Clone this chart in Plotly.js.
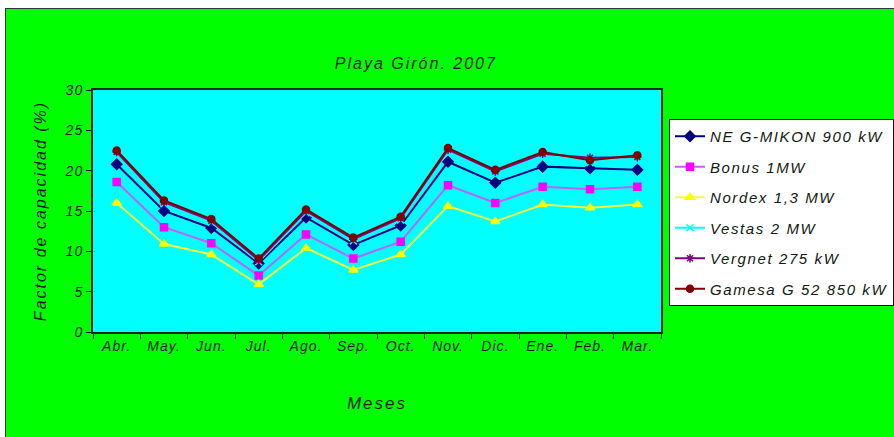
<!DOCTYPE html>
<html>
<head>
<meta charset="utf-8">
<script src="https://cdn.plot.ly/plotly-3.0.1.min.js"></script>
<style>
  html, body { margin: 0; padding: 0; background: #ffffff; width: 894px; height: 437px; overflow: hidden; }
  #frame { position: absolute; left: 5px; top: 8px; width: 889px; height: 429px;
           border-left: 1px solid #2a3a2a; border-top: 1px solid #2a3a2a; background: #00ff00; }
  #chart { width: 889px; height: 429px; }
  .gtitle { letter-spacing: 2px; }
  .legendtext { letter-spacing: 1.6px; }
  .ytitle { letter-spacing: 2px; }
  .xtitle { letter-spacing: 2px; }
  .xtick text, .ytick text { letter-spacing: 1px; }
</style>
</head>
<body>
<div id="frame"><div id="chart"></div></div>
<script>
const months = ["Abr.", "May.", "Jun.", "Jul.", "Ago.", "Sep.", "Oct.", "Nov.", "Dic.", "Ene.", "Feb.", "Mar."];
const neGMikon = [20.8, 15.0, 12.9, 8.5, 14.2, 10.8, 13.2, 21.1, 18.5, 20.5, 20.3, 20.1];
const bonus    = [18.6, 13.0, 11.0, 7.0, 12.1, 9.1, 11.2, 18.2, 16.0, 18.0, 17.7, 18.0];
const nordex   = [16.0, 10.9, 9.6, 5.9, 10.4, 7.7, 9.6, 15.6, 13.7, 15.8, 15.4, 15.8];
const vestas   = [22.1, 15.9, 13.6, 8.7, 14.8, 11.3, 13.9, 22.4, 19.7, 21.9, 21.0, 21.5];
const vergnet  = [22.3, 16.1, 13.8, 8.9, 15.0, 11.5, 14.1, 22.6, 19.9, 22.1, 21.6, 21.7];
const gamesa   = [22.5, 16.3, 14.0, 9.1, 15.2, 11.7, 14.3, 22.8, 20.1, 22.3, 21.3, 21.9];
const seriesNames = ["NE G-MIKON 900 kW", "Bonus 1MW", "Nordex 1,3 MW", "Vestas 2 MW", "Vergnet 275 kW", "Gamesa G 52 850 kW"];
const yTicks = [0, 5, 10, 15, 20, 25, 30];

const font = "Liberation Sans, Arial, sans-serif";
const txt = "#102010";
const styles = [
  {c: "#000080", lc: "#000080", s: "diamond", z: 8},
  {c: "#ff00ff", lc: "#c060ff", s: "square", z: 7},
  {c: "#ffff00", lc: "#f0ff40", s: "triangle-up", z: 8},
  {c: "#00ffff", lc: "#00ffff", s: "x-thin-open", z: 7},
  {c: "#800080", lc: "#800080", s: "asterisk-open", z: 7},
  {c: "#800000", lc: "#800000", s: "circle", z: 7}
];
const data = [neGMikon, bonus, nordex, vestas, vergnet, gamesa];
const traces = data.map((ys, i) => ({
  type: "scatter", mode: "lines+markers",
  x: months, y: ys, name: "<i>" + seriesNames[i] + "</i>", legendgroup: "g" + i,
  line: {color: styles[i].lc, width: 2},
  marker: {color: styles[i].c, symbol: styles[i].s, size: styles[i].z,
           line: {color: styles[i].c, width: 1.5}}
}));

const layout = {
  width: 889, height: 429,
  paper_bgcolor: "#00ff00", plot_bgcolor: "#00ffff",
  margin: {l: 87, r: 234, t: 81, b: 106, autoexpand: false},
  font: {family: font, size: 14, color: txt},
  title: {text: "<i>Playa Girón. 2007</i>", x: 0.461, xref: "container", xanchor: "center",
          y: 0.874, yref: "container", yanchor: "middle", font: {family: font, size: 16, color: txt}},
  xaxis: {type: "category", tickmode: "array", tickvals: months,
          ticktext: months.map(m => "<i>" + m + "</i>"),
          tickson: "boundaries", ticks: "outside", ticklen: 5, tickcolor: "#111",
          showline: true, linecolor: "#1a2a1a", linewidth: 2, mirror: true, showgrid: false,
          tickfont: {family: font, size: 14, color: txt},
          title: {text: "<i>Meses</i>", standoff: 44, font: {family: font, size: 17, color: txt}},
          range: [-0.5, 11.5]},
  yaxis: {range: [0, 30], tickmode: "array", tickvals: yTicks, ticktext: yTicks.map(v => "<i>" + v + "</i>"),
          ticks: "outside", ticklen: 5, tickcolor: "#111",
          showline: true, linecolor: "#1a2a1a", linewidth: 2, mirror: true, showgrid: false, zeroline: false,
          tickfont: {family: font, size: 14, color: txt},
          title: {text: "<i>Factor de capacidad (%)</i>", standoff: 14, font: {family: font, size: 16, color: txt}}},
  legend: {xanchor: "left", yanchor: "top", xref: "paper", yref: "paper",
           bgcolor: "#ffffff", bordercolor: "#111", borderwidth: 1,
           traceorder: "grouped", tracegroupgap: 8,
           font: {family: font, size: 15, color: txt}},
  showlegend: true
};
// legend left edge at ~668px page, top at ~118px page
layout.legend.x = (668 - 5 - 87) / 568;
layout.legend.y = 1 - (118 - 8 - 81) / 242;
Plotly.newPlot("chart", traces, layout, {displayModeBar: false, staticPlot: true});
</script>
</body>
</html>
